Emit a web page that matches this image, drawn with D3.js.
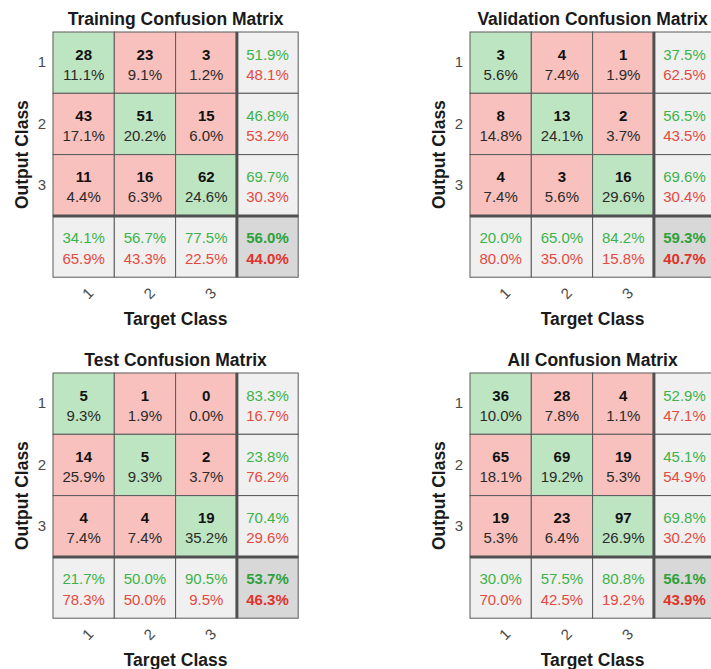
<!DOCTYPE html>
<html>
<head>
<meta charset="UTF-8">
<title>Confusion Matrices</title>
<style>
  body { margin: 0; background: #ffffff; font-family: 'Liberation Sans', Arial, sans-serif; }
  .title, .axis-label { font-weight: bold; fill: #1a1a1a; }
  .axis path, .axis line { display: none; }
  .axis text { fill: #4a4a4a; font-size: 15px; }
</style>
</head>
<body>
<script src="https://cdn.jsdelivr.net/npm/d3@7"></script>
<script>
// class labels (last band is the summary row / column)
const classes = ['1', '2', '3'];
const titles = ['Training Confusion Matrix', 'Validation Confusion Matrix', 'Test Confusion Matrix', 'All Confusion Matrix'];

// counts per cell, rows = output class, cols = target class
const trainCounts = [[28, 23, 3], [43, 51, 15], [11, 16, 62]];
const validCounts = [[3, 4, 1], [8, 13, 2], [4, 3, 16]];
const testCounts  = [[5, 1, 0], [14, 5, 2], [4, 4, 19]];
const allCounts   = [[36, 28, 4], [65, 69, 19], [19, 23, 97]];

// share of all samples per cell (%)
const trainPct = [[11.1, 9.1, 1.2], [17.1, 20.2, 6.0], [4.4, 6.3, 24.6]];
const validPct = [[5.6, 7.4, 1.9], [14.8, 24.1, 3.7], [7.4, 5.6, 29.6]];
const testPct  = [[9.3, 1.9, 0.0], [25.9, 9.3, 3.7], [7.4, 7.4, 35.2]];
const allPct   = [[10.0, 7.8, 1.1], [18.1, 19.2, 5.3], [5.3, 6.4, 26.9]];

// right column: [correct %, wrong %] per output class
const trainRow = [[51.9, 48.1], [46.8, 53.2], [69.7, 30.3]];
const validRow = [[37.5, 62.5], [56.5, 43.5], [69.6, 30.4]];
const testRow  = [[83.3, 16.7], [23.8, 76.2], [70.4, 29.6]];
const allRow   = [[52.9, 47.1], [45.1, 54.9], [69.8, 30.2]];

// bottom row: [correct %, wrong %] per target class
const trainCol = [[34.1, 65.9], [56.7, 43.3], [77.5, 22.5]];
const validCol = [[20.0, 80.0], [65.0, 35.0], [84.2, 15.8]];
const testCol  = [[21.7, 78.3], [50.0, 50.0], [90.5, 9.5]];
const allCol   = [[30.0, 70.0], [57.5, 42.5], [80.8, 19.2]];

// overall [correct %, wrong %]
const overall = [[56.0, 44.0], [59.3, 40.7], [53.7, 46.3], [56.1, 43.9]];

const panels = [
  { counts: trainCounts, pct: trainPct, row: trainRow, col: trainCol },
  { counts: validCounts, pct: validPct, row: validRow, col: validCol },
  { counts: testCounts,  pct: testPct,  row: testRow,  col: testCol },
  { counts: allCounts,   pct: allPct,   row: allRow,   col: allCol }
];

const colors = {
  good: '#bde5c1', bad: '#f8c1bd', summary: '#f0f0f0', total: '#d8d8d8',
  goodText: '#3cb34a', badText: '#e5493f', goodBold: '#2ea13a', badBold: '#e0332b'
};

const W = 711, H = 669;
const size = 245.2;              // grid size
const origins = [[53, 32], [470, 32], [53, 373], [470, 373]];

const svg = d3.select('body').append('svg')
  .attr('width', W).attr('height', H);

const bands = classes.concat(['T']);
const x = d3.scaleBand().domain(bands).range([0, size]);
const y = d3.scaleBand().domain(bands).range([0, size]);
const fmt = v => v.toFixed(1) + '%';

panels.forEach((p, k) => {
  const g = svg.append('g').attr('transform', `translate(${origins[k][0]},${origins[k][1]})`);

  // build cell list
  const cells = [];
  classes.forEach((r, i) => {
    classes.forEach((c, j) => {
      cells.push({ r, c, type: i === j ? 'good' : 'bad', top: String(p.counts[i][j]), bottom: fmt(p.pct[i][j]) });
    });
    cells.push({ r, c: 'T', type: 'summary', top: fmt(p.row[i][0]), bottom: fmt(p.row[i][1]) });
  });
  classes.forEach((c, j) => {
    cells.push({ r: 'T', c, type: 'summary', top: fmt(p.col[j][0]), bottom: fmt(p.col[j][1]) });
  });
  cells.push({ r: 'T', c: 'T', type: 'total', top: fmt(overall[k][0]), bottom: fmt(overall[k][1]) });

  const cell = g.selectAll('.cell').data(cells).enter().append('g').attr('class', 'cell');

  cell.append('rect')
    .attr('x', d => x(d.c)).attr('y', d => y(d.r))
    .attr('width', x.bandwidth()).attr('height', y.bandwidth())
    .attr('fill', d => colors[d.type])
    .attr('stroke', '#5a5a5a').attr('stroke-width', 1);

  const cx = d => x(d.c) + x.bandwidth() / 2;
  const cy = d => y(d.r) + y.bandwidth() / 2;

  cell.append('text')
    .attr('x', cx).attr('y', d => cy(d) - 8.6)
    .attr('text-anchor', 'middle').attr('dominant-baseline', 'central')
    .style('font-size', '15px')
    .style('font-weight', d => d.type === 'summary' ? 'normal' : 'bold')
    .attr('fill', d => d.type === 'summary' ? colors.goodText : d.type === 'total' ? colors.goodBold : '#111')
    .text(d => d.top);

  cell.append('text')
    .attr('x', cx).attr('y', d => cy(d) + 11.6)
    .attr('text-anchor', 'middle').attr('dominant-baseline', 'central')
    .style('font-size', '15px')
    .style('font-weight', d => d.type === 'total' ? 'bold' : 'normal')
    .attr('fill', d => d.type === 'summary' ? colors.badText : d.type === 'total' ? colors.badBold : '#2a2a2a')
    .text(d => d.bottom);

  // thick separators before the summary row / column
  g.append('line')
    .attr('x1', x('T')).attr('x2', x('T')).attr('y1', 0).attr('y2', size)
    .attr('stroke', '#505050').attr('stroke-width', 3);
  g.append('line')
    .attr('x1', 0).attr('x2', size).attr('y1', y('T')).attr('y2', y('T'))
    .attr('stroke', '#505050').attr('stroke-width', 3);

  // row tick labels
  g.append('g').attr('class', 'axis')
    .call(d3.axisLeft(y).tickSize(0).tickPadding(7).tickFormat(d => d === 'T' ? '' : d));

  // column tick labels, rotated
  g.append('g').attr('class', 'axis')
    .attr('transform', `translate(0,${size})`)
    .call(d3.axisBottom(x).tickSize(0).tickFormat(d => d === 'T' ? '' : d))
    .selectAll('text')
      .attr('dy', null).attr('y', 16).attr('x', 4)
      .attr('dominant-baseline', 'central')
      .attr('text-anchor', 'middle')
      .attr('transform', 'rotate(-45,4,16)');

  // title
  g.append('text').attr('class', 'title')
    .attr('x', size / 2).attr('y', -7)
    .attr('text-anchor', 'middle')
    .style('font-size', '17.5px')
    .text(titles[k]);

  // axis labels
  g.append('text').attr('class', 'axis-label')
    .attr('x', size / 2).attr('y', size + 48)
    .attr('text-anchor', 'middle')
    .style('font-size', '17.5px')
    .text('Target Class');

  g.append('text').attr('class', 'axis-label')
    .attr('transform', `translate(-25,${size / 2}) rotate(-90)`)
    .attr('text-anchor', 'middle')
    .style('font-size', '17.5px')
    .text('Output Class');
});
</script>
</body>
</html>
